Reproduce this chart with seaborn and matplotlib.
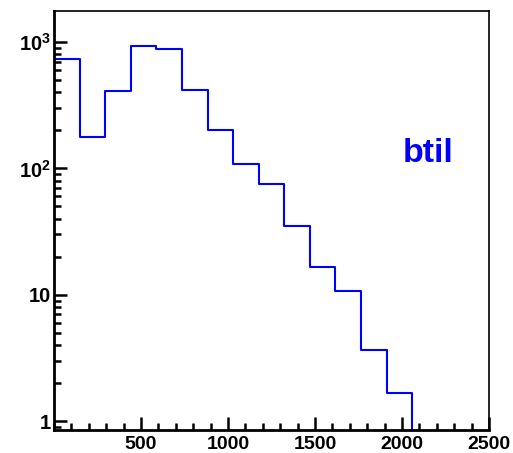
import numpy as np
import pandas as pd
import matplotlib
matplotlib.use("Agg")
import matplotlib.pyplot as plt
import matplotlib.ticker as mticker
import seaborn as sns

# Histogram contents: 17 equal bins between 0 and 2500
x_low, x_high, n_bins = 0, 2500, 17
bin_counts = [738, 178, 407, 925, 880, 418, 200, 109, 75.6, 35, 16.7, 10.8, 3.63, 1.66, 0, 0, 0]
x_tick_values = [500, 1000, 1500, 2000, 2500]
x_tick_labels = ["500", "1000", "1500", "2000", "2500"]
y_tick_values = [1, 10, 100, 1000]
y_tick_labels = ["1", "10", r"$10^{2}$", r"$10^{3}$"]
label_text = "btil"

sns.set_style("white")
plt.rcParams["font.family"] = ["Liberation Sans", "DejaVu Sans"]
plt.rcParams["font.weight"] = "bold"
plt.rcParams["mathtext.fontset"] = "custom"
plt.rcParams["mathtext.rm"] = "Liberation Sans:bold"
plt.rcParams["mathtext.bf"] = "Liberation Sans:bold"

fig = plt.figure(figsize=(5.13, 4.53), dpi=100)
ax = fig.add_axes([54 / 513, 1 - 430 / 453, (489 - 54) / 513, (430 - 11) / 453])

width = (x_high - x_low) / n_bins
centers = x_low + width * (np.arange(n_bins) + 0.5)
df = pd.DataFrame({"btil": centers, "entries": bin_counts})
sns.histplot(data=df, x="btil", weights="entries", binwidth=width,
             binrange=(x_low, x_high), element="step", fill=False,
             color="#0000ff", linewidth=1.5, ax=ax)

ax.set_yscale("log")
ax.set_xlim(x_low, x_high)
ax.set_ylim(0.85, 1760)
ax.set_xlabel("")
ax.set_ylabel("")

ax.set_xticks(x_tick_values)
ax.set_xticklabels(x_tick_labels)
ax.xaxis.set_minor_locator(mticker.MultipleLocator(100))
ax.set_yticks(y_tick_values)
ax.set_yticklabels(y_tick_labels)
ax.yaxis.set_minor_locator(mticker.LogLocator(base=10, subs=np.arange(2, 10)))
ax.yaxis.set_minor_formatter(mticker.NullFormatter())

ax.tick_params(axis="both", which="both", bottom=True, left=True, top=False,
               right=False, direction="in", colors="black")
ax.tick_params(axis="both", which="major", length=9.5, width=1.8)
ax.tick_params(axis="both", which="minor", length=5, width=1.8)
ax.tick_params(axis="x", which="major", pad=4, labelsize=14)
ax.tick_params(axis="y", which="major", pad=2, labelsize=14.5)
for lbl in ax.get_xticklabels() + ax.get_yticklabels():
    lbl.set_fontweight("bold")

for side in ["left", "bottom"]:
    ax.spines[side].set_linewidth(2.0)
    ax.spines[side].set_color("black")
for side in ["top", "right"]:
    ax.spines[side].set_linewidth(1.2)
    ax.spines[side].set_color("black")
    ax.spines[side].set_visible(True)

ax.text(0.86, 0.66, label_text, transform=ax.transAxes, color="#0000ff",
        fontsize=24.5, fontweight="bold", ha="center", va="center")

fig.savefig("out.png", dpi=100)
